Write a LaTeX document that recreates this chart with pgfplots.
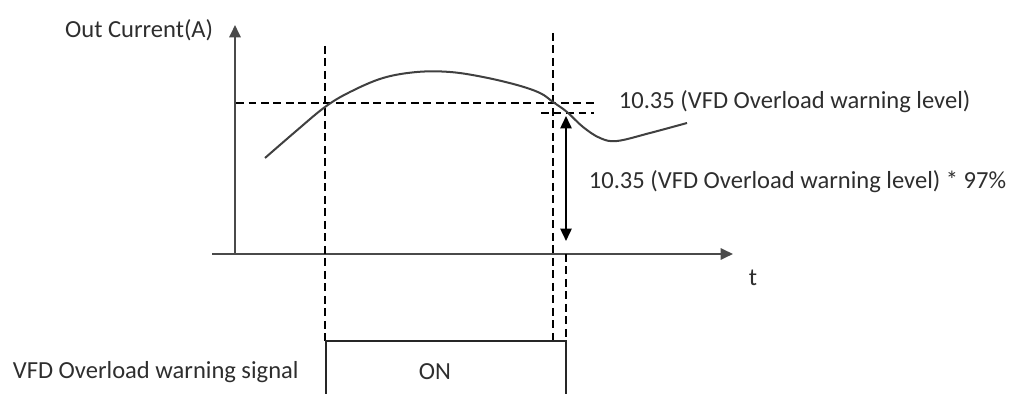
\documentclass[border=0pt]{standalone}
\usepackage{pgfplots}
\pgfplotsset{compat=1.18}
\usepackage{fontspec}
\setmainfont{Carlito}
\usetikzlibrary{arrows.meta}
\definecolor{ink}{HTML}{2E2E2E}
\definecolor{axisgray}{HTML}{4A4A4A}
\begin{document}
\begin{tikzpicture}
\begin{axis}[
    name=ax,
    scale only axis,
    width=16cm, height=6.2047cm,
    xmin=0, xmax=1016, ymin=0, ymax=394,
    hide axis, clip=false,
    every axis plot/.append style={no marks},
    dashline/.style={black, line width=0.7pt, dash pattern=on 3.4pt off 2.2pt},
    font=\fontsize{11}{13}\selectfont,
]
% axes of the timing diagram
\addplot[axisgray, line width=0.95pt, -{Triangle[length=5.5pt,width=5pt]}] coordinates {(235,140) (235,369)};
\addplot[axisgray, line width=0.95pt, -{Triangle[length=5.5pt,width=5pt]}] coordinates {(212,140) (733,140)};

% guide lines
\addplot[dashline] coordinates {(325,348) (325,53)};
\addplot[dashline] coordinates {(553,361) (553,53)};
\addplot[dashline] coordinates {(566,140) (566,53)};
\addplot[dashline] coordinates {(236,291) (598,291)};
\addplot[dashline] coordinates {(541,281) (594,281)};

% output current
\addplot[black!75, line width=0.9pt, smooth, tension=0.6] coordinates {
(265,236) (295,262) (325,287) (350,302) (383,316) (417,322) (450,322)
(483,317) (517,309) (540,301) (553,292) (567,282) (583,267) (600,256)
(617,253) (650,261) (687,271)
};

% hysteresis arrow
\addplot[black, line width=0.85pt, {Triangle[length=5.5pt,width=5pt]}-{Triangle[length=5.5pt,width=5pt]}] coordinates {(566,278) (566,153)};

% warning signal box
\addplot[black!85, line width=0.85pt] coordinates {(326,0) (326,53) (566,53) (566,0)};

% text
\node[ink, anchor=east] at (axis cs:221,364) {Out Current(A)};
\node[ink, anchor=west] at (axis cs:611,292) {10.35 (VFD Overload warning level)};
\node[ink, anchor=west] at (axis cs:581,212) {10.35 (VFD Overload warning level) * 97\%};
\node[ink] at (axis cs:753,116) {t};
\node[ink, anchor=west] at (axis cs:5,22) {VFD Overload warning signal};
\node[ink] at (axis cs:435,22) {ON};
\end{axis}
\pgfresetboundingbox
\path (ax.south west) rectangle (ax.north east);
\end{tikzpicture}
\end{document}
